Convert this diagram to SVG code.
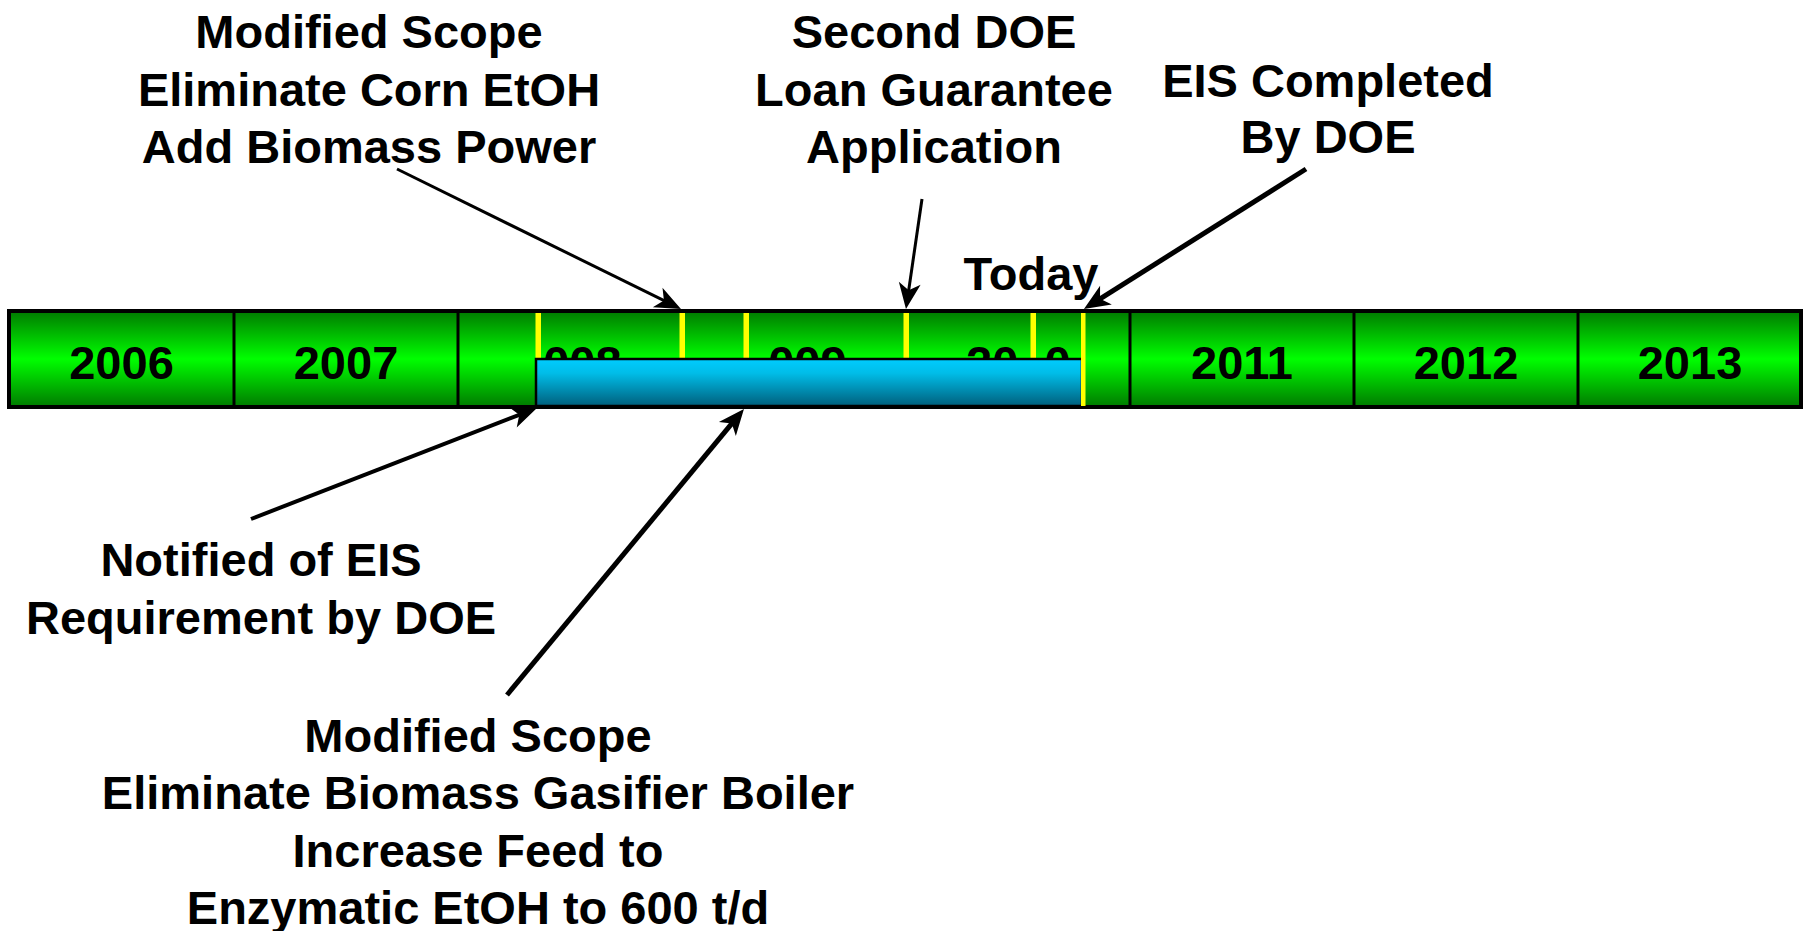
<svg xmlns="http://www.w3.org/2000/svg" width="1803" height="931" viewBox="0 0 1803 931">
<defs>
<linearGradient id="gGreen" gradientUnits="userSpaceOnUse" x1="0" y1="311" x2="0" y2="407">
<stop offset="0" stop-color="#007a00"/>
<stop offset="0.5" stop-color="#00ff00"/>
<stop offset="1" stop-color="#007a00"/>
</linearGradient>
<linearGradient id="gBlue" x1="0" y1="0" x2="0" y2="1">
<stop offset="0" stop-color="#00ccff"/>
<stop offset="0.3" stop-color="#00bde8"/>
<stop offset="1" stop-color="#005f7c"/>
</linearGradient>
<marker id="ah" markerUnits="userSpaceOnUse" markerWidth="30" markerHeight="26" viewBox="0 -13 28 26" refX="14" refY="0" orient="auto">
<path d="M0,-11 L26,0 L0,11 L7,0 Z" fill="#000"/>
</marker>
</defs>
<style>
text{font-family:"Liberation Sans",Arial,sans-serif;font-weight:bold;fill:#000;}
.lbl{font-size:47px;text-anchor:middle;}
.yr{font-size:47px;text-anchor:middle;}
.yrs{font-size:47px;text-anchor:start;}
.div{stroke:#000;stroke-width:3;}
.tick{fill:#ffff00;}
.ov{fill:url(#gGreen);}
.con{stroke:#000;fill:none;marker-end:url(#ah);}
</style>

<g id="timeline">
<rect x="9" y="311" width="1792" height="96" fill="url(#gGreen)" stroke="#000" stroke-width="4"/>
<line class="div" x1="234" y1="311" x2="234" y2="407"/>
<line class="div" x1="458" y1="311" x2="458" y2="407"/>
<line class="div" x1="1130" y1="311" x2="1130" y2="407"/>
<line class="div" x1="1354" y1="311" x2="1354" y2="407"/>
<line class="div" x1="1578" y1="311" x2="1578" y2="407"/>
<text class="yr" x="121.5" y="379">2006</text>
<text class="yr" x="346" y="379">2007</text>
<text class="yrs" x="517" y="379">2008</text>
<text class="yrs" x="742" y="379">2009</text>
<text class="yrs" x="966" y="379">2010</text>
<text class="yr" x="1242" y="379">2011</text>
<text class="yr" x="1466" y="379">2012</text>
<text class="yr" x="1690" y="379">2013</text>
<rect class="ov" x="460" y="313" width="83" height="92"/>
<rect class="ov" x="684" y="313" width="84" height="47"/>
<rect class="ov" x="1018" y="313" width="27" height="47"/>
<rect class="tick" x="535.5" y="313" width="5.5" height="47"/>
<rect class="tick" x="679.5" y="313" width="5.5" height="47"/>
<rect class="tick" x="743.5" y="313" width="5.5" height="47"/>
<rect class="tick" x="903.5" y="313" width="5.5" height="47"/>
<rect class="tick" x="1030.5" y="313" width="5.5" height="47"/>
<rect id="blue-bar" x="536" y="359" width="546" height="47" fill="url(#gBlue)" stroke="#000" stroke-width="2.5"/>
<rect class="tick" x="1081" y="313" width="4.5" height="93"/>
</g>

<g id="label-modified-scope-1">
<text class="lbl" x="369" y="48">Modified Scope</text>
<text class="lbl" x="369" y="106">Eliminate Corn EtOH</text>
<text class="lbl" x="369" y="163">Add Biomass Power</text>
</g>

<g id="label-second-doe">
<text class="lbl" x="934" y="48">Second DOE</text>
<text class="lbl" x="934" y="106">Loan Guarantee</text>
<text class="lbl" x="934" y="163">Application</text>
</g>

<g id="label-eis-completed">
<text class="lbl" x="1328" y="97">EIS Completed</text>
<text class="lbl" x="1328" y="153">By DOE</text>
</g>

<g id="label-today">
<text class="lbl" x="1031" y="290">Today</text>
</g>

<g id="label-notified">
<text class="lbl" x="261" y="576">Notified of EIS</text>
<text class="lbl" x="261" y="634">Requirement by DOE</text>
</g>

<g id="label-modified-scope-2">
<text class="lbl" x="478" y="752">Modified Scope</text>
<text class="lbl" x="478" y="809">Eliminate Biomass Gasifier Boiler</text>
<text class="lbl" x="478" y="867">Increase Feed to</text>
<text class="lbl" x="478" y="924">Enzymatic EtOH to 600 t/d</text>
</g>

<g id="connectors">
<line class="con" stroke-width="3" x1="397" y1="169" x2="670.2" y2="303.7"/>
<line class="con" stroke-width="3" x1="922" y1="199" x2="907.7" y2="297.1"/>
<line class="con" stroke-width="5" x1="1306" y1="169" x2="1094.1" y2="302.6"/>
<line class="con" stroke-width="4" x1="251" y1="519" x2="525.8" y2="412.3"/>
<line class="con" stroke-width="5" x1="507" y1="695" x2="736.3" y2="418.2"/>
</g>
</svg>
